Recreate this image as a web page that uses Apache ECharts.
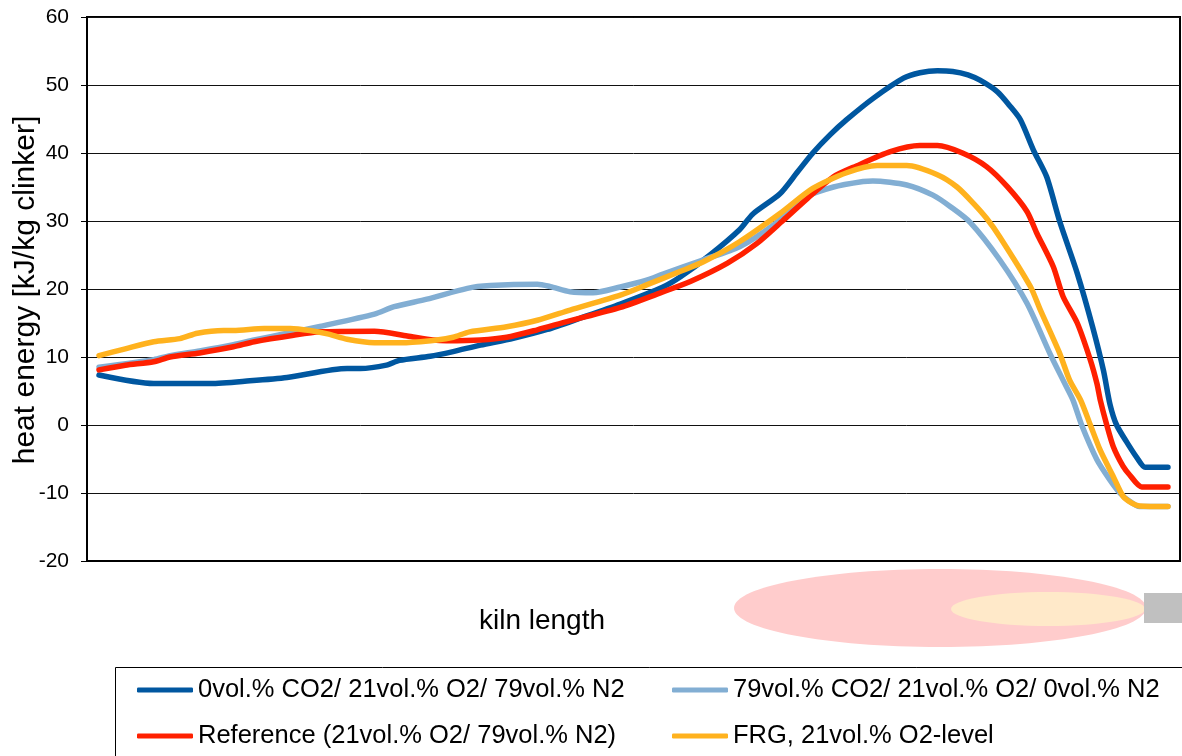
<!DOCTYPE html>
<html>
<head>
<meta charset="utf-8">
<script src="https://cdn.jsdelivr.net/npm/echarts@6/dist/echarts.min.js"></script>
<style>
html,body{margin:0;padding:0;background:#fff;}
#chart{width:1182px;height:756px;}
</style>
</head>
<body>
<div id="chart"></div>
<script>
// kiln length position (relative, 0-100) and heat energy [kJ/kg clinker]
var seriesNames = [
  '0vol.% CO2/ 21vol.% O2/ 79vol.% N2',
  '79vol.% CO2/ 21vol.% O2/ 0vol.% N2',
  'Reference (21vol.% O2/ 79vol.% N2)',
  'FRG, 21vol.% O2-level'
];
var yTicks = { min: -20, max: 60, interval: 10 };

var co2_0_x = [1.1,6.1,11.3,14.9,18.3,23.8,25.0,27.4,28.6,31.4,33.5,36.0,39.0,42.1,45.1,48.8,52.7,54.3,57.0,59.7,60.9,63.4,65.0,66.4,68.0,69.5,71.9,74.7,76.2,77.8,79.2,80.6,81.7,83.3,84.4,85.4,86.6,87.8,89.0,90.6,92.0,93.0,93.6,94.2,95.2,96.1,96.8,98.9];
var co2_0_y = [7.35,6.1,6.1,6.5,7.0,8.3,8.3,8.8,9.5,10.1,10.8,11.75,12.75,14.05,15.7,17.8,20.3,21.8,25.0,28.7,31.0,34.0,37.2,40.0,42.7,44.9,48.0,51.0,51.8,52.1,52.0,51.5,50.7,49.0,47.0,44.9,40.4,36.5,29.9,22.3,14.45,8.0,3.0,0,-2.7,-4.9,-6.2,-6.2];

var co2_79_x = [1.1,6.1,7.6,10.3,13.4,15.3,18.3,21.3,26.3,28.1,31.1,34.8,36.9,41.2,42.4,44.2,46.3,48.8,51.2,52.7,56.4,59.7,62.8,65.9,68.3,71.0,71.9,75.0,77.4,79.0,80.8,83.5,86.0,88.1,89.3,90.2,91.0,92.4,93.6,94.5,95.2,96.3,98.9];
var co2_79_y = [8.5,9.6,10.2,10.9,11.8,12.5,13.5,14.5,16.3,17.4,18.5,20.1,20.5,20.7,20.35,19.6,19.45,20.3,21.3,22.2,24.3,26.2,29.4,33.6,35.0,35.8,35.9,35.3,33.8,32.1,29.8,24.3,17.9,10.5,6.6,3.7,0,-5.1,-8.1,-10.0,-11.0,-12.0,-12.0];

var ref_x = [1.1,3.5,6.1,7.6,10.3,13.4,15.3,18.9,21.3,26.3,29.3,31.7,32.9,36.0,38.4,41.2,43.9,48.8,52.4,55.2,58.6,61.3,63.7,65.9,68.3,70.4,73.5,76.2,77.8,80.1,82.3,84.2,86.0,86.9,88.4,89.3,90.6,91.8,92.4,92.7,93.3,93.9,94.8,95.4,96.5,98.9];
var ref_y = [8.1,8.8,9.3,10.0,10.6,11.5,12.25,13.2,13.7,13.8,13.1,12.5,12.4,12.5,12.9,14.0,15.2,17.3,19.4,21.1,23.8,26.7,30.1,33.3,36.5,38.1,40.2,41.1,41.1,40.0,38.0,35.05,31.4,28.2,23.3,18.9,15.0,9.55,6.1,3.7,0,-3.2,-6.1,-7.35,-9.1,-9.1];

var frg_x = [1.1,3.5,6.1,8.5,10.1,12.5,13.4,16.2,18.6,20.4,22.0,23.8,26.3,29.0,32.0,33.5,35.0,38.4,41.2,44.2,48.8,51.2,54.3,56.4,59.7,63.4,66.4,69.5,72.3,75.0,77.8,79.6,81.1,82.3,83.5,86.3,87.2,89.0,89.9,90.9,91.8,92.7,93.9,94.8,95.6,96.3,98.9];
var frg_y = [10.2,11.2,12.25,12.7,13.5,13.9,13.9,14.2,14.2,13.9,13.4,12.6,12.1,12.1,12.5,12.9,13.7,14.45,15.4,16.9,19.1,20.6,22.6,24.0,26.95,31.1,34.8,37.1,38.15,38.15,36.8,35.0,32.6,30.4,27.7,20.4,17.0,10.5,6.6,3.7,0,-3.7,-7.6,-10.5,-11.5,-11.9,-12.0];

var colors = ['#0057a0', '#82aed3', '#ff2000', '#ffb21e'];

function pairs(xs, ys) { return xs.map(function (x, i) { return [x, ys[i]]; }); }
var allData = [pairs(co2_0_x, co2_0_y), pairs(co2_79_x, co2_79_y), pairs(ref_x, ref_y), pairs(frg_x, frg_y)];

var FONT = '"Liberation Sans", Arial, sans-serif';
var chart = echarts.init(document.getElementById('chart'), null, { renderer: 'canvas' });

var legendCommon = {
  orient: 'vertical',
  top: 677,
  padding: 0,
  icon: 'roundRect',
  itemWidth: 56,
  itemHeight: 5,
  itemGap: 20,
  selectedMode: false,
  textStyle: { fontSize: 25.5, color: '#000', fontFamily: FONT, lineHeight: 24 }
};

chart.setOption({
  animation: false,
  color: colors,
  grid: { left: 87, top: 17, right: 2, bottom: 195, show: true, borderColor: '#000', borderWidth: 2, backgroundColor: 'transparent' },
  xAxis: {
    type: 'value', min: 0, max: 100,
    axisLine: { show: true, onZero: false, lineStyle: { color: '#000', width: 2 } },
    axisTick: { show: false }, axisLabel: { show: false }, splitLine: { show: false }
  },
  yAxis: {
    type: 'value', min: yTicks.min, max: yTicks.max, interval: yTicks.interval,
    axisLine: { show: true, lineStyle: { color: '#000', width: 2 } },
    axisTick: { show: true, length: 6, lineStyle: { color: '#000', width: 1 } },
    axisLabel: { color: '#000', fontSize: 21, fontFamily: FONT, margin: 18 },
    splitLine: { show: true, lineStyle: { color: '#111', width: 1 } }
  },
  legend: [
    Object.assign({ left: 137, data: [seriesNames[0], seriesNames[2]] }, legendCommon),
    Object.assign({ left: 672, data: [seriesNames[1], seriesNames[3]] }, legendCommon)
  ],
  graphic: [
    { type: 'rect', z: 0, shape: { x: 115.5, y: 667.5, width: 1100, height: 120 }, style: { fill: '#fff', stroke: '#000', lineWidth: 1 } },
    { type: 'ellipse', shape: { cx: 940, cy: 608, rx: 206, ry: 39 }, style: { fill: '#ffcccc' } },
    { type: 'ellipse', shape: { cx: 1048, cy: 609, rx: 97, ry: 17 }, style: { fill: '#ffe9c9' } },
    { type: 'rect', shape: { x: 1144, y: 593, width: 40, height: 30 }, style: { fill: '#c0c0c0' } },
    { type: 'text', x: 542, y: 621, style: { text: 'kiln length', font: '28px ' + FONT, fill: '#000', textAlign: 'center', textVerticalAlign: 'middle' } },
    { type: 'text', x: 26, y: 290, rotation: Math.PI / 2, style: { text: 'heat energy [kJ/kg clinker]', font: '30px ' + FONT, fill: '#000', textAlign: 'center', textVerticalAlign: 'middle' } }
  ],
  series: allData.map(function (d, i) {
    return {
      name: seriesNames[i], type: 'line', data: d, symbol: 'none', smooth: 0.25,
      lineStyle: { width: 5.5, color: colors[i], cap: 'round', join: 'round' },
      itemStyle: { color: colors[i] }
    };
  })
});
</script>
</body>
</html>
